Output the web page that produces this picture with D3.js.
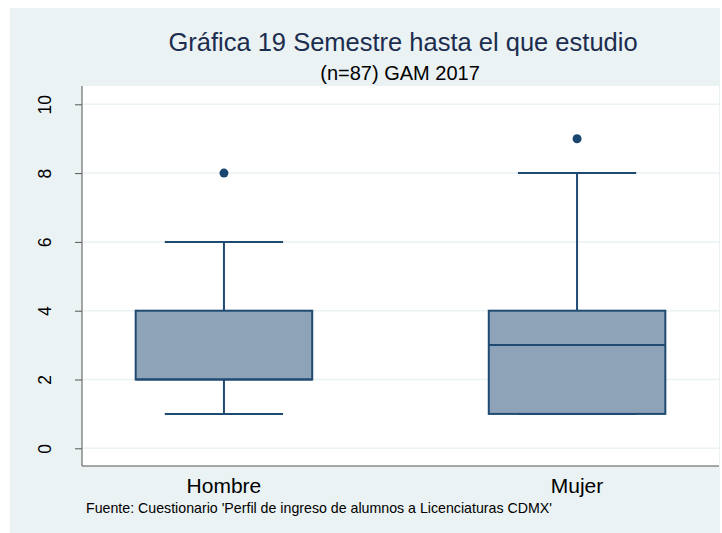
<!DOCTYPE html>
<html>
<head>
<meta charset="utf-8">
<script src="https://cdn.jsdelivr.net/npm/d3@7"></script>
<style>
  body { margin: 0; background: #fff; }
  svg { display: block; font-family: "Liberation Sans", Arial, sans-serif; }
</style>
</head>
<body>
<div id="chart"></div>
<script>
// box stats
const groups = ['Hombre', 'Mujer'];
const lowWhisker = [1, 1];
const q1 = [2, 1];
const median = [2, 3];
const q3 = [4, 4];
const highWhisker = [6, 8];
const outliers = [[8], [9]];
const yTicks = [0, 2, 4, 6, 8, 10];

const W = 722, H = 533;
const plot = { left: 82, right: 719, top: 86, bottom: 466 };

const svg = d3.select('#chart').append('svg')
  .attr('width', W)
  .attr('height', H);

// outer background
svg.append('rect')
  .attr('x', 10).attr('y', 8)
  .attr('width', 710).attr('height', H - 8)
  .attr('fill', '#eaf2f3');

svg.append('rect')
  .attr('x', plot.left).attr('y', plot.top)
  .attr('width', plot.right - plot.left)
  .attr('height', plot.bottom - plot.top)
  .attr('fill', '#fff');

// scales
const y = d3.scaleLinear()
  .domain([0, 10])
  .range([448.3, 104.3]);

const x = d3.scalePoint()
  .domain(groups)
  .range([plot.left, plot.right])
  .padding(0.402);

const step = x.step();
const boxW = step * 0.5;
const capW = step * 0.335;

// gridlines
svg.append('g')
  .selectAll('line')
  .data(yTicks)
  .join('line')
  .attr('x1', plot.left + 1)
  .attr('x2', plot.right)
  .attr('y1', d => y(d))
  .attr('y2', d => y(d))
  .attr('stroke', '#eaf2f3')
  .attr('stroke-width', 1.5);

// y axis
const yAxis = svg.append('g')
  .attr('transform', `translate(${plot.left},0)`)
  .call(d3.axisLeft(y).tickValues(yTicks).tickSize(7).tickPadding(0).tickFormat(d3.format('d')));
yAxis.select('.domain')
  .attr('d', `M0,${plot.top}V${plot.bottom}`)
  .attr('stroke', '#555');
yAxis.selectAll('.tick line').attr('stroke', '#555');
yAxis.selectAll('.tick text')
  .attr('transform', 'translate(-37,0) rotate(-90)')
  .attr('x', 0).attr('y', 0).attr('dy', '0.35em')
  .attr('text-anchor', 'middle')
  .attr('font-size', 17.5)
  .attr('fill', '#000');

// x axis line
svg.append('line')
  .attr('x1', plot.left).attr('x2', plot.right)
  .attr('y1', plot.bottom).attr('y2', plot.bottom)
  .attr('stroke', '#555').attr('stroke-width', 1.2);

// x labels
svg.append('g')
  .selectAll('text')
  .data(groups)
  .join('text')
  .attr('x', d => x(d))
  .attr('y', 493)
  .attr('text-anchor', 'middle')
  .attr('font-size', 21)
  .attr('fill', '#000')
  .text(d => d);

const stroke = '#1f4a72';
const boxes = svg.append('g')
  .selectAll('g')
  .data(groups)
  .join('g');

// whiskers
boxes.append('line')
  .attr('x1', d => x(d)).attr('x2', d => x(d))
  .attr('y1', (d, i) => y(highWhisker[i]))
  .attr('y2', (d, i) => y(q3[i]))
  .attr('stroke', stroke).attr('stroke-width', 2);
boxes.append('line')
  .attr('x1', d => x(d)).attr('x2', d => x(d))
  .attr('y1', (d, i) => y(lowWhisker[i]))
  .attr('y2', (d, i) => y(q1[i]))
  .attr('stroke', stroke).attr('stroke-width', 2);

// caps
boxes.append('line')
  .attr('x1', d => x(d) - capW / 2).attr('x2', d => x(d) + capW / 2)
  .attr('y1', (d, i) => y(highWhisker[i]))
  .attr('y2', (d, i) => y(highWhisker[i]))
  .attr('stroke', stroke).attr('stroke-width', 2);
boxes.append('line')
  .attr('x1', d => x(d) - capW / 2).attr('x2', d => x(d) + capW / 2)
  .attr('y1', (d, i) => y(lowWhisker[i]))
  .attr('y2', (d, i) => y(lowWhisker[i]))
  .attr('stroke', stroke).attr('stroke-width', 2);

// box
boxes.append('rect')
  .attr('x', d => x(d) - boxW / 2)
  .attr('width', boxW)
  .attr('y', (d, i) => y(q3[i]))
  .attr('height', (d, i) => y(q1[i]) - y(q3[i]))
  .attr('fill', '#8ea3b7')
  .attr('stroke', stroke).attr('stroke-width', 2);

// median
boxes.append('line')
  .attr('x1', d => x(d) - boxW / 2).attr('x2', d => x(d) + boxW / 2)
  .attr('y1', (d, i) => y(median[i]))
  .attr('y2', (d, i) => y(median[i]))
  .attr('stroke', stroke).attr('stroke-width', 2);

// outliers
boxes.selectAll('circle')
  .data((d, i) => outliers[i].map(v => ({ g: d, v })))
  .join('circle')
  .attr('cx', d => x(d.g))
  .attr('cy', d => y(d.v))
  .attr('r', 4.5)
  .attr('fill', '#1a476f');

// titles
svg.append('text')
  .attr('x', 403).attr('y', 51)
  .attr('text-anchor', 'middle')
  .attr('font-size', 25.5)
  .attr('fill', '#1c2d4f')
  .text('Gráfica 19 Semestre hasta el que estudio');

svg.append('text')
  .attr('x', 400).attr('y', 80)
  .attr('text-anchor', 'middle')
  .attr('font-size', 20)
  .attr('fill', '#000')
  .text('(n=87) GAM 2017');

svg.append('text')
  .attr('x', 86).attr('y', 513)
  .attr('font-size', 14.2)
  .attr('fill', '#000')
  .text("Fuente: Cuestionario 'Perfil de ingreso de alumnos a Licenciaturas CDMX'");
</script>
</body>
</html>
